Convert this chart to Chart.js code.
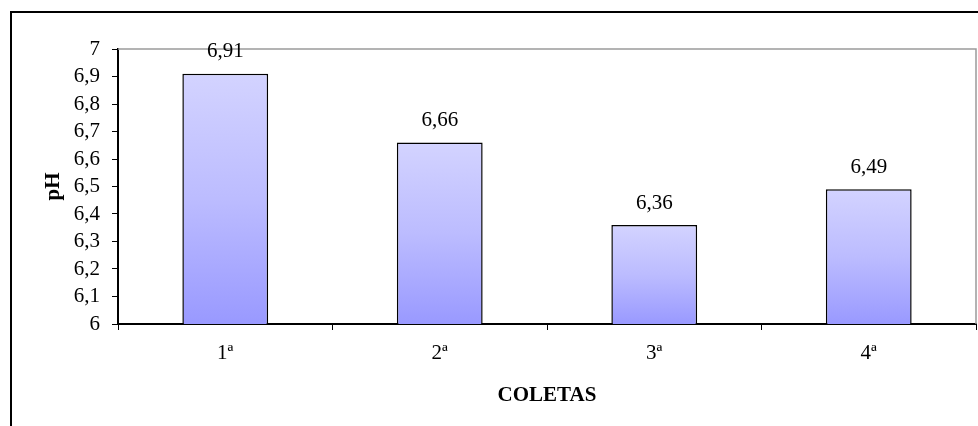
<!DOCTYPE html>
<html>
<head>
<meta charset="utf-8">
<script src="https://cdn.jsdelivr.net/npm/chart.js@4/dist/chart.umd.min.js"></script>
<style>
  html, body { margin: 0; padding: 0; background: #fff; }
  canvas { display: block; }
</style>
</head>
<body>
<canvas id="c" width="978" height="426"></canvas>
<script>
const categories = ['1ª', '2ª', '3ª', '4ª'];
const phValues = [6.91, 6.66, 6.36, 6.49];
const yMin = 6;
const yMax = 7;
const yStep = 0.1;
const xTitle = 'COLETAS';
const yTitle = 'pH';

const FONT = "'Liberation Serif', 'Times New Roman', serif";

function fmt(v) {
  if (Math.abs(v - Math.round(v)) < 1e-9) return String(Math.round(v));
  return v.toFixed(1).replace('.', ',');
}

const framePlugin = {
  id: 'frame',
  beforeDraw(chart) {
    const c = chart.ctx;
    c.save();
    c.fillStyle = '#fff';
    c.fillRect(0, 0, chart.width, chart.height);
    c.restore();
  },
  beforeDatasetsDraw(chart) {
    const c = chart.ctx;
    const a = chart.chartArea;
    c.save();
    c.strokeStyle = '#9a9a9a';
    c.lineWidth = 1.5;
    c.beginPath();
    c.moveTo(a.left, a.top);
    c.lineTo(a.right, a.top);
    c.lineTo(a.right, a.bottom);
    c.stroke();
    c.restore();
  },
  afterDraw(chart) {
    const c = chart.ctx;
    c.save();
    c.strokeStyle = '#000';
    c.lineWidth = 2;
    c.strokeRect(11, 12, 2000, 2000);
    // data labels
    c.fillStyle = '#000';
    c.font = '21px ' + FONT;
    c.textAlign = 'center';
    c.textBaseline = 'middle';
    const meta = chart.getDatasetMeta(0);
    meta.data.forEach((bar, i) => {
      const v = chart.data.datasets[0].data[i];
      c.fillText(v.toFixed(2).replace('.', ','), bar.x, bar.y - 22);
    });
    c.restore();
  }
};

new Chart(document.getElementById('c'), {
  type: 'bar',
  data: {
    labels: categories,
    datasets: [{
      data: phValues,
      backgroundColor(ctx) {
        const chart = ctx.chart;
        if (!chart.chartArea || ctx.raw === undefined) return '#b4b4ff';
        const ys = chart.scales.y;
        const top = ys.getPixelForValue(ctx.raw);
        const bottom = ys.getPixelForValue(yMin);
        const g = chart.ctx.createLinearGradient(0, top, 0, bottom);
        g.addColorStop(0, '#d3d3ff');
        g.addColorStop(0.5, '#bcbcff');
        g.addColorStop(1, '#9999ff');
        return g;
      },
      borderColor: '#000',
      borderWidth: 1.5,
      borderSkipped: false,
      barPercentage: 0.4,
      categoryPercentage: 1.0
    }]
  },
  options: {
    responsive: false,
    devicePixelRatio: 1,
    animation: false,
    layout: { padding: { top: 49, right: 2, left: 0, bottom: 0 } },
    plugins: {
      legend: { display: false },
      tooltip: { enabled: false }
    },
    scales: {
      x: {
        grid: {
          display: true,
          offset: true,
          drawOnChartArea: false,
          drawTicks: true,
          tickLength: 6,
          color: '#000',
          lineWidth: 1
        },
        border: { display: true, color: '#000', width: 2 },
        ticks: {
          color: '#000',
          font: { family: FONT, size: 21 },
          padding: 11,
          maxRotation: 0
        },
        title: {
          display: true,
          text: xTitle,
          color: '#000',
          font: { family: FONT, size: 21, weight: 'bold' },
          padding: { top: 0, bottom: 18 }
        },
        afterFit(scale) { scale.height = 102; }
      },
      y: {
        min: yMin,
        max: yMax,
        grid: {
          display: true,
          drawOnChartArea: false,
          drawTicks: true,
          tickLength: 6,
          color: '#000',
          lineWidth: 1
        },
        border: { display: true, color: '#000', width: 2 },
        ticks: {
          stepSize: yStep,
          autoSkip: false,
          color: '#000',
          font: { family: FONT, size: 21 },
          padding: 12,
          callback(v) { return fmt(v); }
        },
        title: {
          display: true,
          text: yTitle,
          color: '#000',
          font: { family: FONT, size: 21, weight: 'bold' },
          padding: { top: 41, bottom: 0 }
        },
        afterFit(scale) { scale.width = 118; }
      }
    }
  },
  plugins: [framePlugin]
});
</script>
</body>
</html>
